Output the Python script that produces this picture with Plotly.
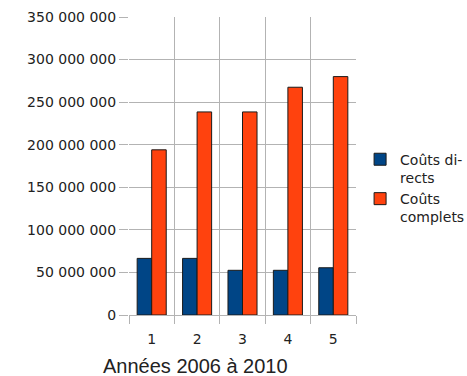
import plotly.graph_objects as go

# Cost data per year (2006 to 2010), in euros
annees = ["1", "2", "3", "4", "5"]
couts_directs = [66_500_000, 66_500_000, 52_500_000, 52_500_000, 55_500_000]
couts_complets = [194_000_000, 238_500_000, 238_500_000, 267_500_000, 280_000_000]

positions = [1, 2, 3, 4, 5]

fig = go.Figure()
fig.add_trace(go.Bar(
    x=positions, y=couts_directs, name="Coûts di-<br>rects",
    marker=dict(color="#004586", line=dict(color="#1a1a1a", width=1)),
))
fig.add_trace(go.Bar(
    x=positions, y=couts_complets, name="Coûts<br>complets",
    marker=dict(color="#ff420e", line=dict(color="#1a1a1a", width=1)),
))

grid = "#b3b3b3"
fig.update_layout(
    width=467, height=376,
    margin=dict(l=129, r=111, t=17, b=61, autoexpand=False),
    paper_bgcolor="white", plot_bgcolor="white",
    barmode="group", bargap=0.36, bargroupgap=0,
    separators=", ",
    font=dict(family="DejaVu Sans", size=14, color="#222222"),
    showlegend=True,
    legend=dict(
        x=1.018, y=0.575, xanchor="left", yanchor="top",
        valign="top", tracegroupgap=4,
        font=dict(family="DejaVu Sans", size=14, color="#222222"),
        bgcolor="rgba(0,0,0,0)",
    ),
    xaxis=dict(
        range=[0.5, 5.5],
        tickvals=positions, ticktext=annees,
        showgrid=False, ticks="", zeroline=False, showline=False,
        ticklabelstandoff=14,
        tickfont=dict(family="DejaVu Sans", size=14),
        minor=dict(
            tickvals=[0.5, 1.5, 2.5, 3.5, 4.5, 5.5],
            showgrid=True, gridcolor=grid, gridwidth=1,
            ticks="outside", ticklen=8, tickcolor=grid, tickwidth=1,
        ),
    ),
    yaxis=dict(
        range=[0, 350_000_000], dtick=50_000_000,
        tickformat=",d",
        showgrid=True, gridcolor=grid, gridwidth=1,
        ticks="outside", ticklen=9, tickcolor=grid,
        zeroline=True, zerolinecolor=grid, zerolinewidth=1,
        showline=False,
        tickfont=dict(family="DejaVu Sans", size=14),
    ),
    annotations=[dict(
        text="Années 2006 à 2010", xref="paper", yref="paper",
        x=0.295, y=-0.171, xanchor="center", yanchor="middle",
        showarrow=False,
        font=dict(family="Liberation Sans", size=20, color="#222222"),
    )],
)

fig.write_html("out.html")
